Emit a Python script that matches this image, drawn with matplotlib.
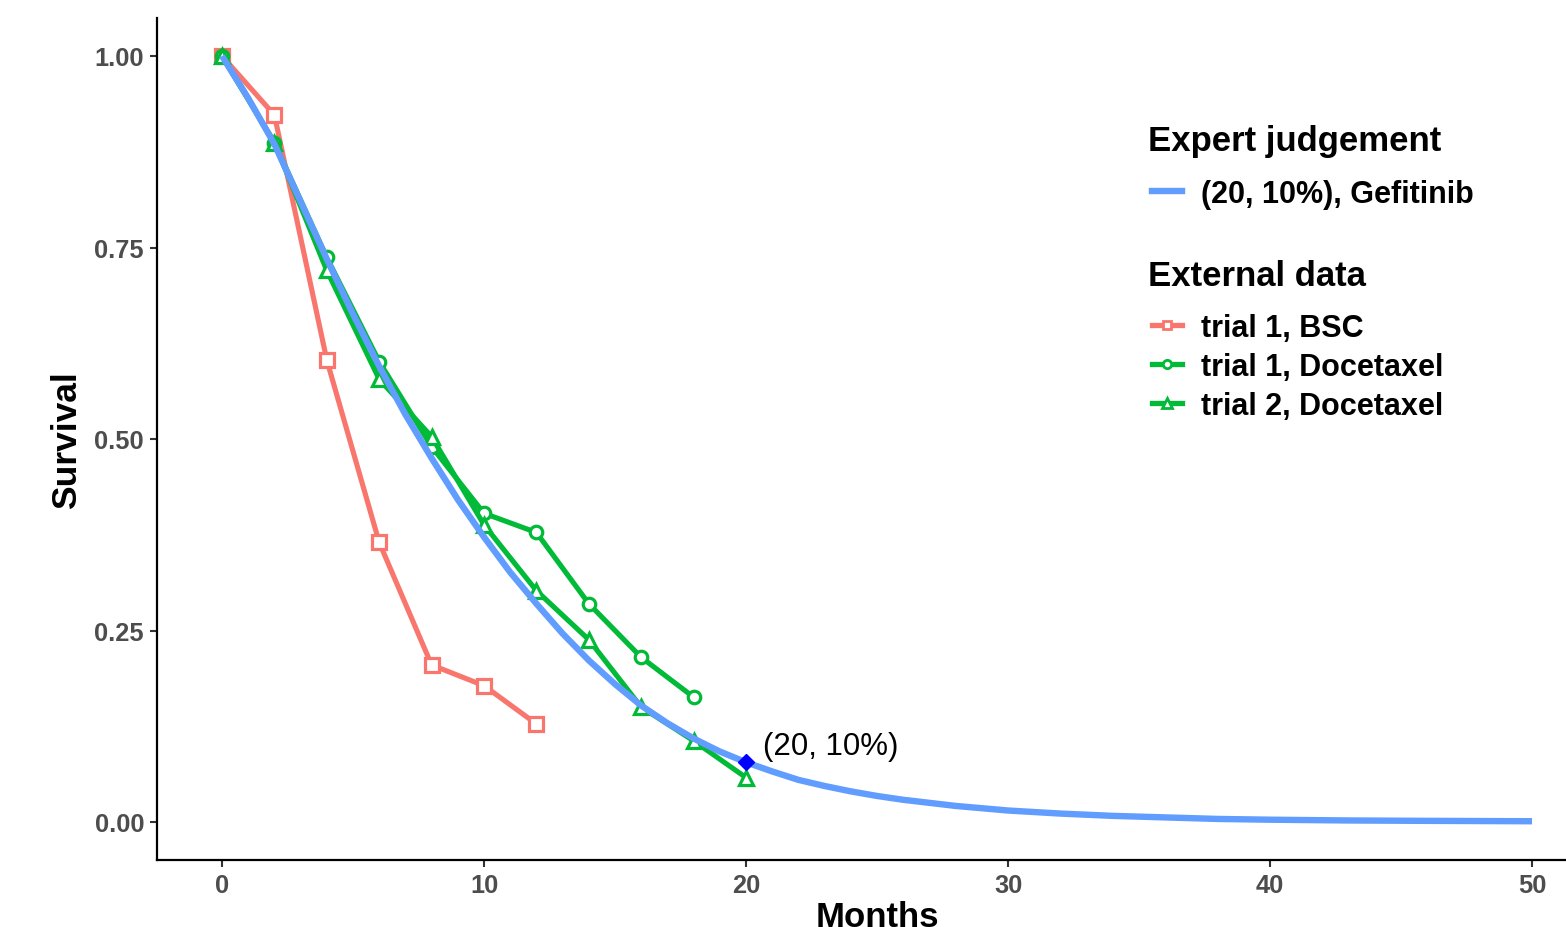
import matplotlib
matplotlib.use("Agg")
import matplotlib.pyplot as plt
from matplotlib.lines import Line2D

plt.rcParams['font.family'] = ['Liberation Sans', 'DejaVu Sans']

# ---- data ----
bsc_months = [0, 2, 4, 6, 8, 10, 12]
bsc_surv = [1.0, 0.923, 0.603, 0.365, 0.205, 0.178, 0.128]

doc1_months = [0, 2, 4, 6, 8, 10, 12, 14, 16, 18]
doc1_surv = [1.0, 0.887, 0.737, 0.601, 0.490, 0.403, 0.378, 0.285, 0.215, 0.163]

doc2_months = [0, 2, 4, 6, 8, 10, 12, 14, 16, 18, 20]
doc2_surv = [1.0, 0.887, 0.720, 0.578, 0.503, 0.388, 0.302, 0.238, 0.150, 0.106, 0.058]

gef_months = [0, 1, 2, 3, 4, 5, 6, 7, 8, 9, 10, 11, 12, 13, 14, 15, 16, 17, 18, 19,
              20, 21, 22, 23, 24, 25, 26, 27, 28, 29, 30, 32, 34, 36, 38, 40, 43, 46, 50]
gef_surv = [1.000, 0.945, 0.885, 0.810, 0.735, 0.663, 0.595, 0.532, 0.475, 0.421,
            0.372, 0.326, 0.285, 0.246, 0.211, 0.180, 0.152, 0.129, 0.109, 0.092,
            0.078, 0.066, 0.055, 0.047, 0.040, 0.034, 0.029, 0.025, 0.021, 0.018,
            0.015, 0.011, 0.008, 0.006, 0.004, 0.003, 0.002, 0.0015, 0.001]

expert_point = (20, 0.078)
expert_label = "(20, 10%)"

legend1_title = "Expert judgement"
legend1_labels = ["(20, 10%), Gefitinib"]
legend2_title = "External data"
legend2_labels = ["trial 1, BSC", "trial 1, Docetaxel", "trial 2, Docetaxel"]

x_ticks = [0, 10, 20, 30, 40, 50]
y_ticks = [0.0, 0.25, 0.5, 0.75, 1.0]
y_ticklabels = ["0.00", "0.25", "0.50", "0.75", "1.00"]

RED = "#F8766D"
GREEN = "#00BA38"
BLUE = "#619CFF"

W, H = 1566, 928
fig = plt.figure(figsize=(W / 100, H / 100), dpi=100)
ax = fig.add_axes([156.5 / W, 1 - 861.3 / H, 1441 / W, 842.6 / H])

lw = 3.7
ms = 9.5
mew = 2.3
ax.plot(bsc_months, bsc_surv, color=RED, lw=lw, marker='s', ms=ms, mew=mew,
        mfc='white', mec=RED, zorder=3)
ax.plot(doc1_months, doc1_surv, color=GREEN, lw=lw, marker='o', ms=ms - 0.5, mew=mew,
        mfc='white', mec=GREEN, zorder=3)
ax.plot(doc2_months, doc2_surv, color=GREEN, lw=lw, marker='^', ms=ms + 1, mew=mew,
        mfc='white', mec=GREEN, zorder=3)
ax.plot(gef_months, gef_surv, color=BLUE, lw=4.6, zorder=4, solid_capstyle='butt')
ax.plot([expert_point[0]], [expert_point[1]], marker='D', color='blue', ms=8, zorder=5,
        linestyle='none')
ax.text(expert_point[0] + 0.65, 0.099, expert_label, fontsize=22.5, color='black',
        ha='left', va='center', zorder=6)

ax.set_xlim(-2.5, 52.5)
ax.set_ylim(-0.05, 1.05)
ax.set_xticks(x_ticks)
ax.set_yticks(y_ticks)
ax.set_yticklabels(y_ticklabels)
ax.tick_params(axis='both', length=5, width=1.5, color='#333333', labelcolor='#4D4D4D',
               labelsize=18.3, pad=4)
for lab in ax.get_xticklabels() + ax.get_yticklabels():
    lab.set_fontweight('bold')
for s in ['top', 'right']:
    ax.spines[s].set_visible(False)
for s in ['left', 'bottom']:
    ax.spines[s].set_linewidth(1.6)
    ax.spines[s].set_color('black')
ax.set_xlabel("Months", fontsize=25, fontweight='bold', labelpad=2)
ax.set_ylabel("Survival", fontsize=25.5, fontweight='bold', labelpad=8)

# ---- legends ----
fig.text(1148 / W, 1 - 142 / H, legend1_title, fontsize=25, fontweight='bold',
         ha='left', va='center')
fig.text(1148 / W, 1 - 277 / H, legend2_title, fontsize=25, fontweight='bold',
         ha='left', va='center')

leg_kw = dict(loc='upper left', frameon=False, prop={'size': 22, 'weight': 'bold'},
              handlelength=0.98, handletextpad=0.62, borderaxespad=0, borderpad=0,
              labelspacing=0.29)
h1 = [Line2D([], [], color=BLUE, lw=4.6)]
leg1 = fig.legend(h1, legend1_labels, bbox_to_anchor=(1152 / W, 1 - 180 / H), **leg_kw)
h2 = [Line2D([], [], color=RED, lw=3.8, marker='s', ms=6, mew=2, mfc='white', mec=RED),
      Line2D([], [], color=GREEN, lw=3.8, marker='o', ms=6, mew=2, mfc='white', mec=GREEN),
      Line2D([], [], color=GREEN, lw=3.8, marker='^', ms=7, mew=2, mfc='white', mec=GREEN)]
leg2 = fig.legend(h2, legend2_labels, bbox_to_anchor=(1152 / W, 1 - 314 / H), **leg_kw)

fig.savefig("out.png", dpi=100)
